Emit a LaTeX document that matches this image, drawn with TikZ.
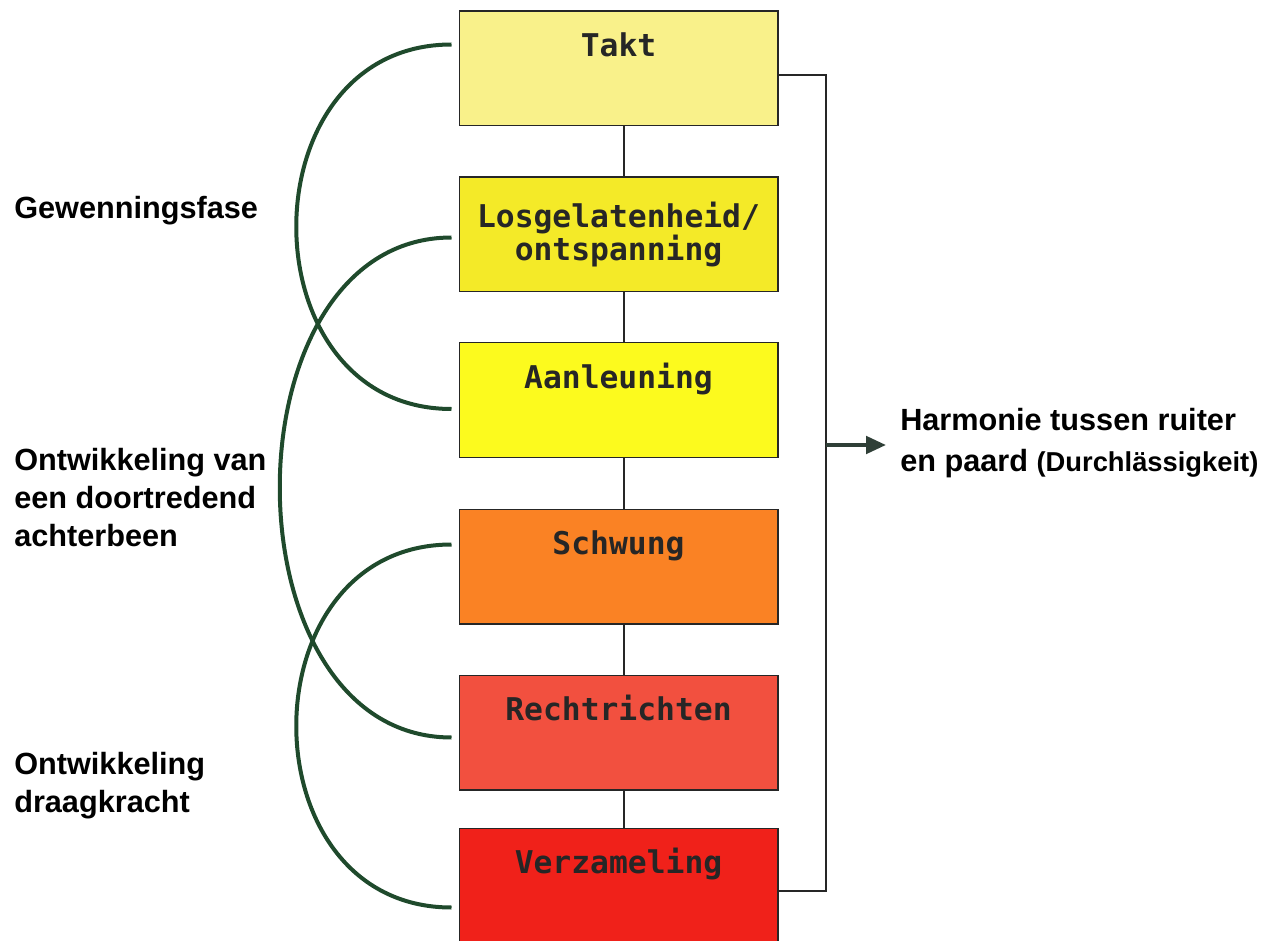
\documentclass[tikz,border=0pt]{standalone}
\usepackage{fontspec}
\setmainfont{Liberation Sans}
\newfontfamily\stagefont{DejaVu Sans Mono}
\usetikzlibrary{calc,arrows.meta}

\definecolor{taktfill}{HTML}{F9F18A}
\definecolor{losfill}{HTML}{F4EA28}
\definecolor{aanfill}{HTML}{FCFA1E}
\definecolor{schwungfill}{HTML}{FA8224}
\definecolor{rechtfill}{HTML}{F2503F}
\definecolor{verzfill}{HTML}{F0211A}
\definecolor{arcgreen}{HTML}{1F4A2C}
\definecolor{arrowgrey}{HTML}{2F3F37}

\begin{document}
\begin{tikzpicture}[x=0.75pt,y=0.75pt,yscale=-1,xscale=1,
  stage/.style={draw=black!85, line width=1pt, minimum width=239pt, minimum height=86pt,
    inner sep=0pt, font=\stagefont\bfseries\fontsize{23.5}{24.5}\selectfont, text=black!85,
    text height=17pt, text depth=35pt},
  phase/.style={anchor=west, inner sep=0pt, align=left,
    font=\bfseries\fontsize{23}{28.5}\selectfont},
  link/.style={draw=black!85, line width=1pt},
  bow/.style={draw=arcgreen, line width=3pt},
  harrow/.style={draw=arrowgrey, line width=3pt, -{Triangle[length=15pt,width=13pt]}}]
\useasboundingbox (0,0) rectangle (1267,941);

% Stages
\node[stage, fill=taktfill] (takt) at (618.5,68.5) {Takt};
\node[stage, fill=losfill, align=center, text height={}, text depth={}] (los) at (618.5,234.5) {Losgelatenheid/\\ontspanning};
\node[stage, fill=aanfill] (aan) at (618.5,400) {Aanleuning};
\node[stage, fill=schwungfill] (schwung) at (618.5,566.5) {Schwung};
\node[stage, fill=rechtfill] (recht) at (618.5,732.5) {Rechtrichten};
\node[stage, fill=verzfill] (verz) at (618.5,885.5) {Verzameling};

% Phases
\node[phase] (gew) at (14,211) {Gewenningsfase};
\node[phase] (dev) at (14,498) {Ontwikkeling van\\een doortredend\\achterbeen};
\node[phase] (carry) at (14,786) {Ontwikkeling\\draagkracht};
\node[phase, font=\bfseries\fontsize{23}{31}\selectfont] (harm) at (900,443)
  {Harmonie tussen ruiter\\en paard {\fontsize{20.5}{31}\selectfont(Durchl\"assigkeit)}};

% Chain
\draw[link] ($(takt.south)+(5.5,0)$) -- ($(los.north)+(5.5,0)$);
\draw[link] ($(los.south)+(5.5,0)$) -- ($(aan.north)+(5.5,0)$);
\draw[link] ($(aan.south)+(5.5,0)$) -- ($(schwung.north)+(5.5,0)$);
\draw[link] ($(schwung.south)+(5.5,0)$) -- ($(recht.north)+(5.5,0)$);
\draw[link] ($(recht.south)+(5.5,0)$) -- ($(verz.north)+(5.5,0)$);

% Collector and result
\coordinate (bus) at (826,445);
\coordinate (tip) at (886,445);
\draw[link] ($(takt.east)+(0,6.5)$) -| (bus) |- ($(verz.east)+(0,5.5)$);
\draw[harrow] (bus) -- (tip);

% Bows
\draw[bow] ($(takt.north west)+(-7,34)$) .. controls +(-207,0) and +(-207,0) .. ($(aan.north west)+(-7,67)$);
\draw[bow] ($(los.north west)+(-7,61)$) .. controls +(-229,0) and +(-229,0) .. ($(recht.north west)+(-7,63)$);
\draw[bow] ($(schwung.north west)+(-7,36)$) .. controls +(-207,0) and +(-207,0) .. ($(verz.north west)+(-7,80)$);

\end{tikzpicture}
\end{document}
